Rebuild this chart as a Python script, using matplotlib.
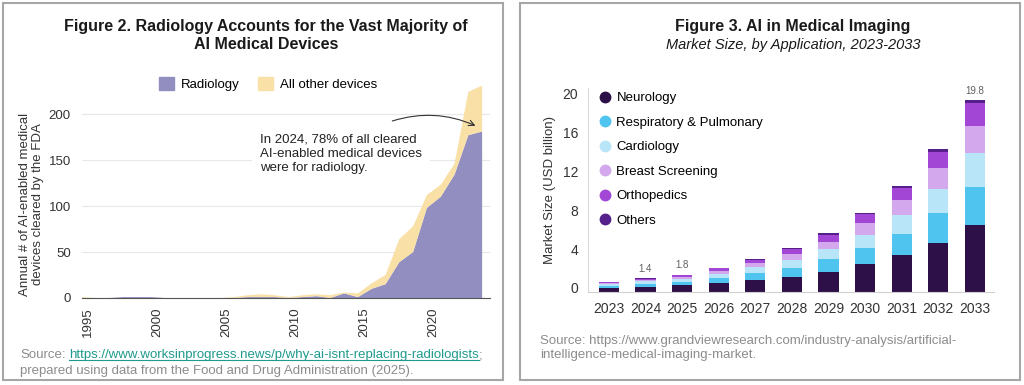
import numpy as np
import matplotlib
matplotlib.use("Agg")
import matplotlib.pyplot as plt
import matplotlib.transforms as mtransforms
from matplotlib.patches import Patch, Rectangle
from matplotlib.lines import Line2D

plt.rcParams["font.family"] = ["Liberation Sans", "DejaVu Sans"]

# Figure 2 data: annual FDA clearances of AI-enabled devices
years = list(range(1995, 2025))
radiology = [0, 0, 0, 1, 1, 1, 0, 0, 0, 0, 0, 0, 1, 1, 1,
             0, 1, 2, 0, 5, 1, 10, 15, 39, 50, 98, 110, 134, 177, 181]
other_devices = [1, 0, 0, 0, 0, 0, 0, 0, 0, 0, 0, 1, 2, 3, 2,
                 1, 2, 2, 3, 1, 4, 6, 10, 25, 28, 14, 13, 12, 47, 50]

# Figure 3 data: market size by application (USD billion)
market_years = [str(y) for y in range(2023, 2034)]
neurology = [0.43, 0.55, 0.68, 0.95, 1.22, 1.57, 2.10, 2.85, 3.80, 5.10, 6.90]
respiratory = [0.22, 0.30, 0.38, 0.52, 0.70, 0.93, 1.27, 1.65, 2.17, 3.00, 3.95]
cardiology = [0.16, 0.25, 0.32, 0.40, 0.62, 0.80, 1.03, 1.38, 1.96, 2.50, 3.50]
breast = [0.10, 0.13, 0.20, 0.25, 0.42, 0.60, 0.80, 1.20, 1.60, 2.15, 2.80]
orthopedics = [0.10, 0.13, 0.18, 0.32, 0.33, 0.50, 0.70, 0.92, 1.20, 1.70, 2.30]
others = [0.03, 0.04, 0.04, 0.06, 0.08, 0.10, 0.15, 0.15, 0.18, 0.25, 0.35]
segment_names = ["Neurology", "Respiratory & Pulmonary", "Cardiology",
                 "Breast Screening", "Orthopedics", "Others"]
total_labels = {"2024": "1.4", "2025": "1.8", "2033": "19.8"}

W, H = 1024, 385
fig = plt.figure(figsize=(W / 100, H / 100), dpi=100)


def px(x0, y0, x1, y1):
    # pixel box (top-left origin) -> figure fraction rect
    return [x0 / W, 1 - y1 / H, (x1 - x0) / W, (y1 - y0) / H]


gray_txt = "#8c8c8c"
dark = "#333333"

# panel frames
for x0, x1 in [(3, 503), (520, 1020)]:
    fig.add_artist(Rectangle((x0 / W, 1 - 380 / H), (x1 - x0) / W, 377 / H,
                             transform=fig.transFigure, fill=False,
                             edgecolor="#a6a6a6", lw=1.5))

# ---------------- Figure 2 ----------------
ax1 = fig.add_axes(px(82, 80, 490, 298))
ax1.stackplot(years, radiology, other_devices,
              colors=["#928fc0", "#f8e0a6"], linewidth=0)
ax1.set_xlim(1995, 2024.57)
ax1.set_ylim(0, 237)
ax1.set_yticks([0, 50, 100, 150, 200])
ax1.set_xticks(range(1995, 2021, 5))
ax1.grid(axis="y", color="#e8e8e8", lw=0.8)
ax1.set_axisbelow(True)
for s in ["top", "right", "left"]:
    ax1.spines[s].set_visible(False)
ax1.spines["bottom"].set_color("#555555")
ax1.tick_params(length=0, labelsize=9.5, colors=dark)
ax1.tick_params(axis="y", pad=8)
ax1.tick_params(axis="x", pad=7)
shift = mtransforms.ScaledTranslation(4.5 / 72, 0, fig.dpi_scale_trans)
for lab in ax1.get_xticklabels():
    lab.set_rotation(90)
    lab.set_transform(lab.get_transform() + shift)
ax1.set_ylabel("Annual # of AI-enabled medical\ndevices cleared by the FDA",
               fontsize=9.5, color=dark, linespacing=1.15)
ax1.yaxis.set_label_coords(-0.093, 0.43)

ax1.text(2007.9, 156.5, "In 2024, 78% of all cleared\nAI-enabled medical devices\nwere for radiology.",
         ha="left", va="center", fontsize=9.5, color="#222222", linespacing=1.25,
         bbox=dict(boxstyle="square,pad=0.6", fc="white", ec="none"))
ax1.annotate("", xy=(2023.7, 186), xytext=(2017.3, 191.5),
             arrowprops=dict(arrowstyle="->", color="#333333", lw=0.8,
                             connectionstyle="arc3,rad=-0.2"))

fig.legend(handles=[Patch(color="#928fc0", label="Radiology"),
                    Patch(color="#f8e0a6", label="All other devices")],
           loc="center", bbox_to_anchor=(268 / W, 1 - 84 / H), ncol=2,
           frameon=False, fontsize=9.5, handlelength=1.1, handleheight=1.1,
           handletextpad=0.55, columnspacing=1.4, borderpad=0)

fig.text(266 / W, 1 - 35.5 / H,
         "Figure 2. Radiology Accounts for the Vast Majority of\nAI Medical Devices",
         ha="center", va="center", fontsize=11.5, weight="bold", color="#1a1a1a",
         linespacing=1.2)

# source line with link
r = fig.canvas.get_renderer()
t1 = fig.text(20 / W, 1 - 355 / H, "Source:", fontsize=9.5, color=gray_txt, va="center")
bb1 = t1.get_window_extent(r)
link = "https://www.worksinprogress.news/p/why-ai-isnt-replacing-radiologists"
t2 = fig.text((bb1.x1 + 3.7) / W, 1 - 355 / H, link, fontsize=9.5, color="#1f9a8c", va="center")
bb2 = t2.get_window_extent(r)
fig.add_artist(Line2D([bb2.x0 / W, bb2.x1 / W], [(bb2.y0 + 1.5) / H] * 2,
                      color="#1f9a8c", lw=0.8))
fig.text(bb2.x1 / W, 1 - 355 / H, ";", fontsize=9.5, color=gray_txt, va="center")
fig.text(20 / W, 1 - 371 / H,
         "prepared using data from the Food and Drug Administration (2025).",
         fontsize=9.5, color=gray_txt, va="center")

# ---------------- Figure 3 ----------------
ax2 = fig.add_axes(px(588, 88, 994, 292))
seg_values = [neurology, respiratory, cardiology, breast, orthopedics, others]
seg_colors = ["#2e1048", "#4ec4ee", "#b9e5f8", "#d4a8ec", "#a246d6", "#55208a"]
xpos = np.arange(len(market_years))
bottom = np.zeros(len(market_years))
for vals, col in zip(seg_values, seg_colors):
    ax2.bar(xpos, vals, 0.55, bottom=bottom, color=col, linewidth=0)
    bottom = bottom + np.array(vals)
for i, yr in enumerate(market_years):
    if yr in total_labels:
        ax2.annotate(total_labels[yr], (xpos[i], bottom[i]), xytext=(0, 3),
                     textcoords="offset points", ha="center", va="bottom",
                     fontsize=7, color="#606060")

ax2.set_xlim(-0.57, 10.52)
ax2.set_ylim(0, 21.03)
ax2.set_yticks([0, 4, 8, 12, 16, 20])
ax2.set_xticks(xpos)
ax2.set_xticklabels(market_years)
for s in ["top", "right"]:
    ax2.spines[s].set_visible(False)
ax2.spines["left"].set_color("#d9d9d9")
ax2.spines["bottom"].set_color("#d0d0d0")
ax2.tick_params(length=0, labelsize=10, colors=dark)
ax2.tick_params(axis="y", pad=7)
ax2.tick_params(axis="x", pad=7)
up = mtransforms.ScaledTranslation(0, 3 / 72, fig.dpi_scale_trans)
for lab in ax2.get_yticklabels():
    lab.set_transform(lab.get_transform() + up)
ax2.set_ylabel("Market Size (USD billion)", fontsize=9.5, color=dark)
ax2.yaxis.set_label_coords(-0.079, 0.5)

handles = [Line2D([], [], marker="o", ls="none", markersize=7.5, color=c,
                  label=n) for c, n in zip(seg_colors, segment_names)]
ax2.legend(handles=handles, loc="upper left",
           bbox_to_anchor=(600 / W, 1 - 92 / H), bbox_transform=fig.transFigure,
           frameon=False, fontsize=9.5, handlelength=0.8, handletextpad=0.45,
           labelspacing=0.93, borderpad=0, borderaxespad=0)

fig.text(793 / W, 1 - 26 / H, "Figure 3. AI in Medical Imaging", ha="center",
         va="center", fontsize=11.5, weight="bold", color="#1a1a1a")
fig.text(793 / W, 1 - 45 / H, "Market Size, by Application, 2023-2033", ha="center",
         va="center", fontsize=10.5, style="italic", color="#1a1a1a")
fig.text(540 / W, 1 - 348 / H,
         "Source: https://www.grandviewresearch.com/industry-analysis/artificial-\n"
         "intelligence-medical-imaging-market.",
         fontsize=9.5, color=gray_txt, va="center", linespacing=1.15)

fig.savefig("out.png", dpi=100)
